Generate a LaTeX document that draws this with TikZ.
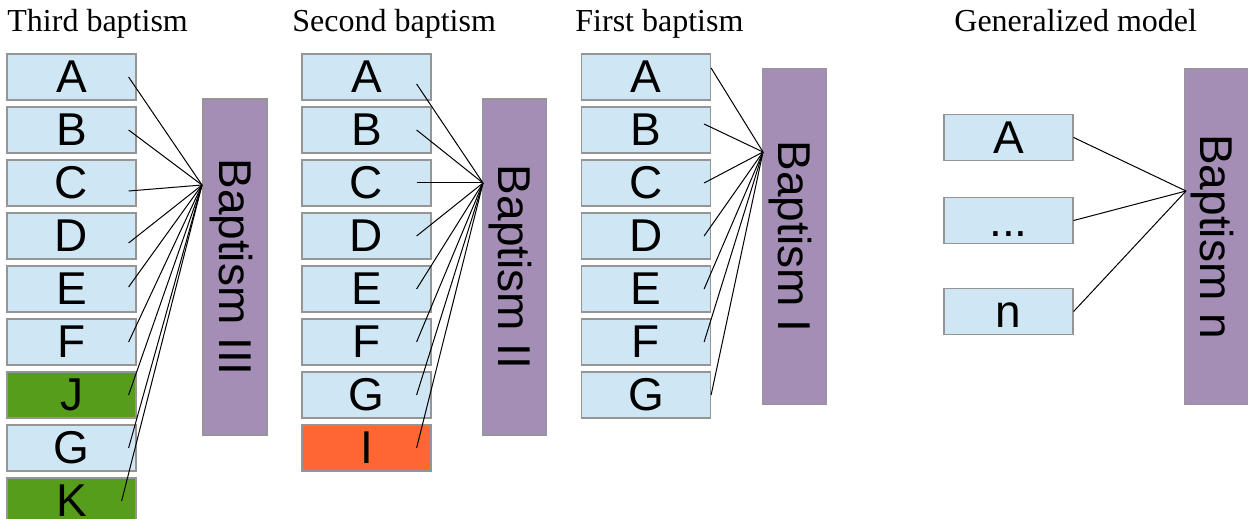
\documentclass[tikz,border=0pt]{standalone}
\usepackage{fontspec}
\setmainfont{Liberation Serif}
\newfontfamily\boxfont{Liberation Sans}
\usepackage{tikz}

\definecolor{itemblue}{HTML}{CFE7F5}
\definecolor{itemgreen}{HTML}{579D1C}
\definecolor{itemorange}{HTML}{FF6633}
\definecolor{baptpurple}{HTML}{A48EB6}
\definecolor{boxgray}{HTML}{959595}

\tikzset{
  item/.style={draw=boxgray, line width=0.6pt, fill=itemblue, rectangle,
    minimum width=64.5pt, minimum height=23pt, inner sep=0pt,
    font=\boxfont\fontsize{23}{27}\selectfont, text height=15.8pt, text depth=0pt},
  baptism/.style={draw=boxgray, line width=0.6pt, fill=baptpurple, rectangle,
    rotate=-90, minimum width=168pt, minimum height=32pt, inner sep=0pt,
    font=\boxfont\fontsize{23}{27}\selectfont, text height=15.8pt, text depth=0pt},
  title/.style={anchor=base west, inner sep=0pt, font=\fontsize{16}{19}\selectfont},
  link/.style={draw=black, line width=0.5pt}
}

\begin{document}
\begin{tikzpicture}[x=0.5pt, y=-0.5pt]
        \useasboundingbox (0,0) rectangle (1248,519);
        % titles
        \node[title] (title3) at (7,32) {Third baptism};
        \node[title] (title2) at (292,32) {Second baptism};
        \node[title] (title1) at (575,32) {First baptism};
        \node[title] (titlen) at (954,32) {Generalized model};
        % third baptism
        \node[item] (a3) at (71.5,77) {A};
        \node[item] (b3) at (71.5,130) {B};
        \node[item] (c3) at (71.5,183) {C};
        \node[item] (d3) at (71.5,236) {D};
        \node[item] (e3) at (71.5,289) {E};
        \node[item] (f3) at (71.5,342) {F};
        \node[item, fill=itemgreen] (j3) at (71.5,395) {J};
        \node[item] (g3) at (71.5,448) {G};
        \node[item, fill=itemgreen] (k3) at (71.5,501) {K};
        \node[baptism] (bapt3) at (235,267) {Baptism III};
        \coordinate (hub3) at (202,185);
        \draw[link] ([xshift=-4pt]a3.east) -- (hub3);
        \draw[link] ([xshift=-4pt]b3.east) -- (hub3);
        \draw[link] ([xshift=-4pt, yshift=-4pt]c3.east) -- (hub3);
        \draw[link] ([xshift=-4pt, yshift=-3.5pt]d3.east) -- (hub3);
        \draw[link] ([xshift=-4pt, yshift=1pt]e3.east) -- (hub3);
        \draw[link] ([xshift=-4pt]f3.east) -- (hub3);
        \draw[link] ([xshift=-4pt]j3.east) -- (hub3);
        \draw[link] ([xshift=-4pt]g3.east) -- (hub3);
        \draw[link] ([xshift=-7.5pt]k3.east) -- (hub3);
        % second baptism
        \node[item] (a2) at (366.5,77) {A};
        \node[item] (b2) at (366.5,130) {B};
        \node[item] (c2) at (366.5,183) {C};
        \node[item] (d2) at (366.5,236) {D};
        \node[item] (e2) at (366.5,289) {E};
        \node[item] (f2) at (366.5,342) {F};
        \node[item] (g2) at (366.5,395) {G};
        \node[item, fill=itemorange] (i2) at (366.5,448) {I};
        \node[baptism] (bapt2) at (514.5,267) {Baptism II};
        \coordinate (hub2) at (483,183);
        \draw[link] ([xshift=-7.5pt, yshift=-3.5pt]a2.east) -- (hub2);
        \draw[link] ([xshift=-7.5pt]b2.east) -- (hub2);
        \draw[link] ([xshift=-7.5pt]c2.east) -- (hub2);
        \draw[link] ([xshift=-7.5pt]d2.east) -- (hub2);
        \draw[link] ([xshift=-7.5pt]e2.east) -- (hub2);
        \draw[link] ([xshift=-7.5pt]f2.east) -- (hub2);
        \draw[link] ([xshift=-7.5pt]g2.east) -- (hub2);
        \draw[link] ([xshift=-7.5pt]i2.east) -- (hub2);
        % first baptism
        \node[item] (a1) at (646,77) {A};
        \node[item] (b1) at (646,130) {B};
        \node[item] (c1) at (646,183) {C};
        \node[item] (d1) at (646,236) {D};
        \node[item] (e1) at (646,289) {E};
        \node[item] (f1) at (646,342) {F};
        \node[item] (g1) at (646,395) {G};
        \node[baptism] (bapt1) at (794.5,236.5) {Baptism I};
        \coordinate (hub1) at (763,152);
        \draw[link] ([yshift=4.5pt]a1.east) -- (hub1);
        \draw[link] ([xshift=-3.5pt, yshift=3pt]b1.east) -- (hub1);
        \draw[link] ([xshift=-3.5pt]c1.east) -- (hub1);
        \draw[link] ([xshift=-3.5pt]d1.east) -- (hub1);
        \draw[link] ([xshift=-3.5pt]e1.east) -- (hub1);
        \draw[link] ([xshift=-3.5pt]f1.east) -- (hub1);
        \draw[link] (g1.east) -- (hub1);
        % generalized model
        \node[item] (an) at (1008.5,137.5) {A};
        \node[item] (dotsn) at (1008.5,220.5) {...};
        \node[item] (nn) at (1008.5,311.5) {n};
        \node[baptism] (baptn) at (1216.5,236.5) {Baptism n};
        \coordinate (hubn) at (1186,191);
        \draw[link] (an.east) -- (hubn);
        \draw[link] (dotsn.east) -- (hubn);
        \draw[link] (nn.east) -- (hubn);
    \end{tikzpicture}
\end{document}
